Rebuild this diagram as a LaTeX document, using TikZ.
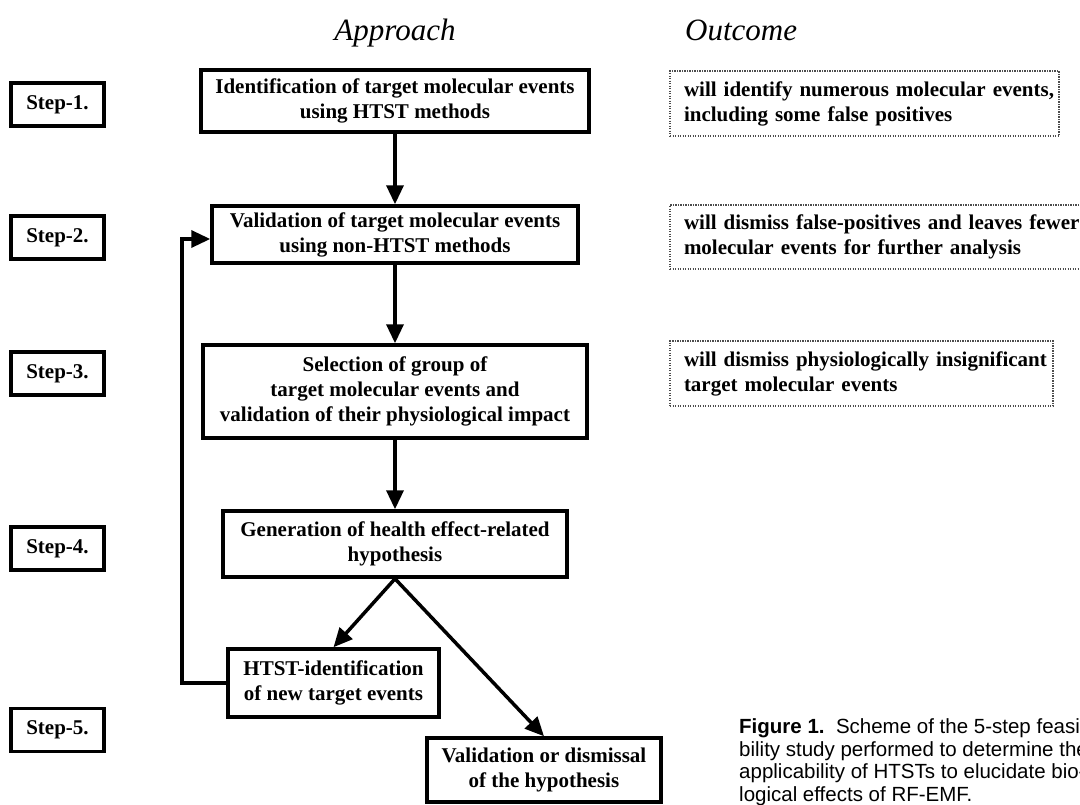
\documentclass[tikz,border=0pt]{standalone}
\usepackage{fontspec}
\setmainfont{Liberation Serif}
\newfontfamily\capfont{Liberation Sans}
\usetikzlibrary{arrows.meta}
\begin{document}
\begin{tikzpicture}[x=1pt,y=-1pt,
  boxfont/.style={font=\fontsize{21}{25}\selectfont\bfseries},
  mainbox/.style={draw, line width=3.5pt, boxfont, align=center, inner sep=0pt},
  stepbox/.style={draw, line width=3.5pt, boxfont, minimum width=93pt, minimum height=43pt, inner sep=0pt},
  outbox/.style={draw=black!70, line width=1.3pt, dash pattern=on 1.3pt off 1.2pt, boxfont, align=left, inner xsep=14pt, inner ysep=0pt},
  arr/.style={line width=3.5pt, -{Triangle[length=19pt,width=17pt]}},
  head/.style={font=\fontsize{31}{36}\selectfont\itshape, inner sep=0pt},
  captext/.style={font=\capfont\fontsize{20.5}{22.5}\selectfont, align=left, inner sep=0pt}
]
\useasboundingbox (0,0) rectangle (1080,804);
\fill[white] (0,0) rectangle (1080,804);

% headings
\node[head, anchor=base] (hA) at (395,40) {Approach};
\node[head, anchor=base west] (hO) at (685,40) {Outcome};

% step labels
\node[stepbox] (s1) at (57.5,104.5) {Step-1.};
\node[stepbox] (s2) at (57.5,237.5) {Step-2.};
\node[stepbox] (s3) at (57.5,373.5) {Step-3.};
\node[stepbox] (s4) at (57.5,548.5) {Step-4.};
\node[stepbox] (s5) at (57.5,730) {Step-5.};

% approach boxes
\node[mainbox, minimum width=388pt, minimum height=62pt] (b1) at (395,101)
  {Identification of target molecular events\\using HTST methods};
\node[mainbox, minimum width=366pt, minimum height=57pt] (b2) at (395,234.5)
  {Validation of target molecular events\\using non-HTST methods};
\node[mainbox, minimum width=384pt, minimum height=93pt] (b3) at (395,391.5)
  {Selection of group of\\target molecular events and\\validation of their physiological impact};
\node[mainbox, minimum width=344pt, minimum height=66pt] (b4) at (395,544)
  {Generation of health effect-related\\hypothesis};
\node[mainbox, minimum width=211pt, minimum height=68pt] (b5) at (333.5,683)
  {HTST-identification\\of new target events};
\node[mainbox, minimum width=234pt, minimum height=64pt] (b6) at (544,770)
  {Validation or dismissal\\of the hypothesis};

% outcome boxes
\node[outbox, text width=361pt, minimum height=65pt] (o1) at (864.5,103.5)
  {\mbox{will identify numerous molecular events,}\\\mbox{including some false positives}};
\node[outbox, text width=402pt, minimum height=64pt] (o2) at (885,237)
  {\mbox{will dismiss false-positives and leaves fewer}\\\mbox{molecular events for further analysis}};
\node[outbox, text width=355pt, minimum height=65pt] (o3) at (861.5,373.5)
  {\mbox{will dismiss physiologically insignificant}\\\mbox{target molecular events}};

% connectors
\draw[arr] (b1.south) -- (b2.north);
\draw[arr] (b2.south) -- (b3.north);
\draw[arr] (b3.south) -- (b4.north);
\draw[arr] (b4.south) -- (b5.north);
\draw[arr] (b4.south) -- (b6.north);
\coordinate (fb) at (182,683);
\draw[arr] (b5.west) -- (fb) |- ([yshift=-4.5pt]b2.west);

% caption
\node[captext, anchor=north west] (cap) at (739,718.5)
  {\textbf{Figure 1.}\ \ Scheme of the 5-step feasi-\\bility study performed to determine the\\applicability of HTSTs to elucidate bio-\\logical effects of RF-EMF.};
\end{tikzpicture}
\end{document}
